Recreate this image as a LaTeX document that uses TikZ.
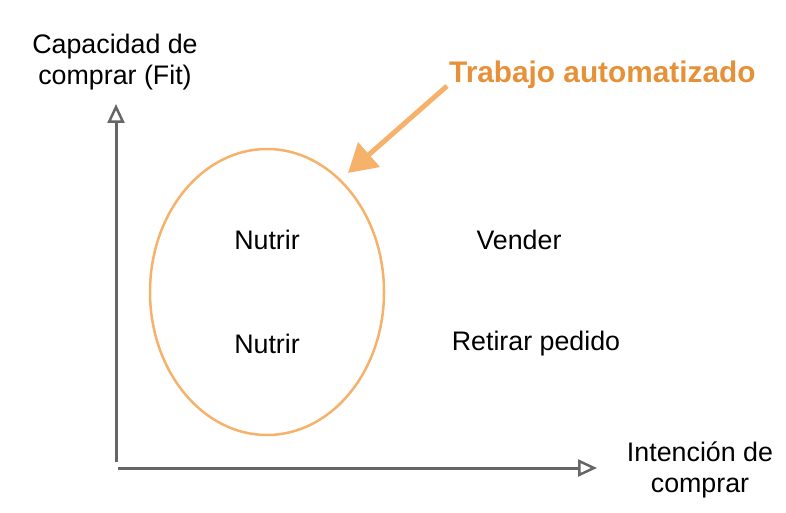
\documentclass[tikz,border=0pt]{standalone}
\usepackage{fontspec}
\setmainfont{Liberation Sans}
\usetikzlibrary{arrows.meta}
\definecolor{axisgray}{HTML}{666666}
\definecolor{lightorange}{HTML}{F6B26B}
\definecolor{darkorange}{HTML}{E69138}
\begin{document}
\begin{tikzpicture}[x=1pt, y=-1pt,
    every node/.style={font=\fontsize{26.8}{31}\selectfont, align=center, inner sep=0pt},
    axis/.style={draw=axisgray, line width=3pt, -{Triangle[open, length=19pt, width=17pt, line width=2.5pt]}}]
  \useasboundingbox (0,0) rectangle (786,513);

  \coordinate (O1) at (116,462);
  \coordinate (Ytop) at (116,104);
  \coordinate (O2) at (118,468);
  \coordinate (Xend) at (597,468);

  \draw[axis] (O1)--(Ytop);
  \draw[axis] (O2)--(Xend);

  \draw[lightorange, line width=2.5pt] (267,292) ellipse [x radius=117, y radius=143];

  \node (ylab) at (115,62) {Capacidad de\\comprar (Fit)};
  \node (xlab) at (700,470) {Intención de\\comprar};
  \node (n1) at (267,240) {Nutrir};
  \node (n2) at (267,344) {Nutrir};
  \node (vend) at (519,240) {Vender};
  \node (ret) at (536,344) {Retirar pedido};

  \node[text=darkorange, font=\fontsize{29.8}{36}\selectfont\bfseries, anchor=west] (auto) at (449,75) {Trabajo automatizado};
  \coordinate (tip) at (348,173);
  \draw[lightorange, line width=5pt, -{Triangle[length=28pt, width=32pt]}] (447,86)--(tip);
\end{tikzpicture}
\end{document}
